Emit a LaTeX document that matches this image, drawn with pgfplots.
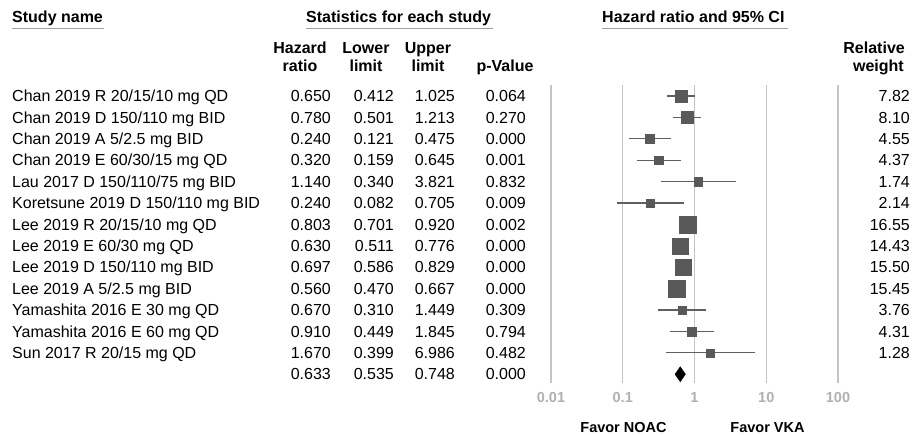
\documentclass[border=0pt]{standalone}
\usepackage{pgfplots}
\usepackage{pgfplotstable}
\pgfplotsset{compat=1.18}
\usepackage{fontspec}
\setmainfont{Liberation Sans}

\definecolor{sqgray}{HTML}{595959}
\definecolor{cigray}{HTML}{606060}
\definecolor{gridgray}{HTML}{C4C4C4}
\definecolor{tickgray}{HTML}{B0B0B0}
\definecolor{rulegray}{HTML}{A0A0A0}

% row, study, hazard ratio, lower, upper, p-value, relative weight
\pgfplotstableread[col sep=comma]{
row,name,hr,lo,hi,p,w
1,Chan 2019 R 20/15/10 mg QD,0.650,0.412,1.025,0.064,7.82
2,Chan 2019 D 150/110 mg BID,0.780,0.501,1.213,0.270,8.10
3,Chan 2019 A 5/2.5 mg BID,0.240,0.121,0.475,0.000,4.55
4,Chan 2019 E 60/30/15 mg QD,0.320,0.159,0.645,0.001,4.37
5,Lau 2017 D 150/110/75 mg BID,1.140,0.340,3.821,0.832,1.74
6,Koretsune 2019 D 150/110 mg BID,0.240,0.082,0.705,0.009,2.14
7,Lee 2019 R 20/15/10 mg QD,0.803,0.701,0.920,0.002,16.55
8,Lee 2019 E 60/30 mg QD,0.630,0.511,0.776,0.000,14.43
9,Lee 2019 D 150/110 mg BID,0.697,0.586,0.829,0.000,15.50
10,Lee 2019 A 5/2.5 mg BID,0.560,0.470,0.667,0.000,15.45
11,Yamashita 2016 E 30 mg QD,0.670,0.310,1.449,0.309,3.76
12,Yamashita 2016 E 60 mg QD,0.910,0.449,1.845,0.794,4.31
13,Sun 2017 R 20/15 mg QD,1.670,0.399,6.986,0.482,1.28
}\studies

\begin{document}
\begin{tikzpicture}[every node/.style={font=\fontsize{16}{19}\selectfont},
  t/.style={inner sep=0pt},
  h/.style={inner sep=0pt, font=\fontsize{16}{19}\selectfont\bfseries}]
\path[use as bounding box] (0,0) rectangle (912pt,-434pt);

% headers
\node[h, anchor=base west] at (12pt,-22.7pt) {Study name};
\node[h, anchor=base west] at (306pt,-22.7pt) {Statistics for each study};
\node[h, anchor=base west] at (602pt,-22.7pt) {Hazard ratio and 95\% CI};
\draw[rulegray, line width=1.8pt] (12pt,-28.5pt) -- (104pt,-28.5pt);
\draw[rulegray, line width=1.8pt] (306pt,-28.5pt) -- (493pt,-28.5pt);
\draw[rulegray, line width=1.8pt] (602pt,-28.5pt) -- (788pt,-28.5pt);

\node[h, anchor=base] at (300pt,-53.3pt) {Hazard};
\node[h, anchor=base] at (300pt,-71pt) {ratio};
\node[h, anchor=base] at (366pt,-53.3pt) {Lower};
\node[h, anchor=base] at (366pt,-71pt) {limit};
\node[h, anchor=base] at (428pt,-53.3pt) {Upper};
\node[h, anchor=base] at (428pt,-71pt) {limit};
\node[h, anchor=base] at (505pt,-71pt) {p-Value};
\node[h, anchor=base east] at (905pt,-53.3pt) {Relative};
\node[h, anchor=base east] at (904pt,-71pt) {weight};

% table rows
\foreach \r in {0,...,12}{
  \pgfplotstablegetelem{\r}{name}\of\studies\let\vname\pgfplotsretval
  \pgfplotstablegetelem{\r}{hr}\of\studies\let\vhr\pgfplotsretval
  \pgfplotstablegetelem{\r}{lo}\of\studies\let\vlo\pgfplotsretval
  \pgfplotstablegetelem{\r}{hi}\of\studies\let\vhi\pgfplotsretval
  \pgfplotstablegetelem{\r}{p}\of\studies\let\vp\pgfplotsretval
  \pgfplotstablegetelem{\r}{w}\of\studies\let\vw\pgfplotsretval
  \pgfmathsetmacro\yb{-(101.7+21.4*\r)}
  \node[t, anchor=base west] at (12pt,\yb pt) {\vname};
  \node[t, anchor=base east] at (331pt,\yb pt) {\vhr};
  \node[t, anchor=base east] at (394pt,\yb pt) {\vlo};
  \node[t, anchor=base east] at (455pt,\yb pt) {\vhi};
  \node[t, anchor=base east] at (526pt,\yb pt) {\vp};
  \node[t, anchor=base east] at (910pt,\yb pt) {\vw};
}
% summary row
\node[t, anchor=base east] at (331pt,-379.9pt) {0.633};
\node[t, anchor=base east] at (394pt,-379.9pt) {0.535};
\node[t, anchor=base east] at (455pt,-379.9pt) {0.748};
\node[t, anchor=base east] at (526pt,-379.9pt) {0.000};

\begin{axis}[
  at={(551pt,-85pt)}, anchor=north west,
  scale only axis, width=287pt, height=298pt,
  xmode=log, xmin=0.01, xmax=100,
  ymin=0.486, ymax=14.41, y dir=reverse,
  xtick={0.01,0.1,1,10,100},
  xticklabels={0.01,0.1,1,10,100},
  ytick=\empty,
  xmajorgrids, grid style={draw=gridgray, line width=1.3pt},
  axis line style={draw=none}, tick style={draw=none},
  xticklabel style={font=\fontsize{14.5}{17}\selectfont\bfseries, text=tickgray, anchor=base, yshift=-19pt},
  clip=false,
]
% confidence intervals
\addplot[only marks, mark=none,
  error bars/.cd, x dir=both, x explicit, error mark=none,
  error bar style={draw=cigray, line width=1.1pt}]
  table[x=hr, y=row,
    x error plus expr=\thisrow{hi}-\thisrow{hr},
    x error minus expr=\thisrow{hr}-\thisrow{lo}] {\studies};
% weighted squares
\addplot[scatter, only marks, mark=square*,
  scatter/use mapped color={draw=sqgray, fill=sqgray},
  visualization depends on={max(4.1,2.12*sqrt(\thisrow{w})) \as \ms},
  scatter/@pre marker code/.append style={/tikz/mark size=\ms}]
  table[x=hr, y=row] {\studies};
% pooled estimate
\addplot[fill=black, draw=black] coordinates {(0.535,14) (0.633,13.65) (0.748,14) (0.633,14.35)} -- cycle;
\end{axis}

\node[h, font=\fontsize{14.5}{17}\selectfont\bfseries, anchor=base] at (623.5pt,-432pt) {Favor NOAC};
\node[h, font=\fontsize{14.5}{17}\selectfont\bfseries, anchor=base] at (767.5pt,-432pt) {Favor VKA};
\end{tikzpicture}
\end{document}
